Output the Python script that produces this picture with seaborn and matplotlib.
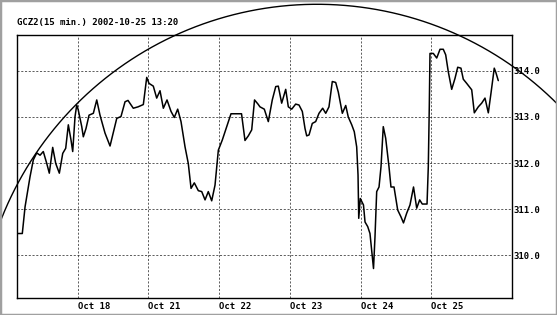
import numpy as np
import pandas as pd
import matplotlib
matplotlib.use("Agg")
import matplotlib.pyplot as plt
import seaborn as sns
from matplotlib.patches import Rectangle

# ---- data (x = trading-day position, Oct 18 = 1 ... Oct 25 = 6) ----
day_pos = [0.151, 0.216, 0.255, 0.293, 0.325, 0.372, 0.420, 0.467, 0.513, 0.562,
           0.598, 0.646, 0.689, 0.740, 0.788, 0.830, 0.867, 0.905, 0.929, 0.962,
           0.986, 1.008, 1.057, 1.079, 1.117, 1.160, 1.221, 1.269, 1.315, 1.386,
           1.457, 1.518, 1.552, 1.612, 1.669, 1.711, 1.786, 1.853, 1.928, 1.976,
           2.008, 2.069, 2.117, 2.164, 2.211, 2.263, 2.320, 2.366, 2.414, 2.461,
           2.518, 2.564, 2.603, 2.649, 2.706, 2.754, 2.801, 2.847, 2.895, 2.942,
           2.989, 3.045, 3.107, 3.168, 3.317, 3.366, 3.413, 3.461, 3.501, 3.550,
           3.578, 3.639, 3.696, 3.752, 3.801, 3.837, 3.885, 3.942, 3.979, 4.027,
           4.083, 4.130, 4.177, 4.215, 4.239, 4.272, 4.318, 4.366, 4.413, 4.465,
           4.508, 4.554, 4.601, 4.649, 4.686, 4.743, 4.791, 4.827, 4.876, 4.912,
           4.946, 4.965, 4.975, 4.997, 5.042, 5.064, 5.102, 5.134, 5.158, 5.184,
           5.205, 5.229, 5.262, 5.290, 5.322, 5.356, 5.403, 5.431, 5.474, 5.526,
           5.573, 5.608, 5.653, 5.700, 5.750, 5.795, 5.837, 5.874, 5.941, 5.959,
           5.973, 5.983, 6.030, 6.078, 6.125, 6.171, 6.205, 6.242, 6.290, 6.337,
           6.375, 6.421, 6.454, 6.502, 6.573, 6.610, 6.666, 6.714, 6.761, 6.808,
           6.846, 6.892, 6.912, 6.949]
price = [310.47, 310.47, 311.05, 311.41, 311.70, 312.07, 312.22, 312.17, 312.25, 311.99,
         311.78, 312.34, 311.99, 311.78, 312.21, 312.32, 312.83, 312.50, 312.25, 313.01,
         313.26, 313.15, 312.79, 312.57, 312.75, 313.04, 313.08, 313.37, 313.04, 312.65,
         312.37, 312.75, 312.97, 313.01, 313.33, 313.36, 313.19, 313.22, 313.27, 313.86,
         313.73, 313.67, 313.41, 313.57, 313.19, 313.37, 313.12, 312.99, 313.17, 312.90,
         312.35, 311.99, 311.45, 311.57, 311.40, 311.38, 311.20, 311.38, 311.18, 311.52,
         312.28, 312.50, 312.79, 313.07, 313.07, 312.49, 312.59, 312.72, 313.37, 313.28,
         313.22, 313.17, 312.90, 313.37, 313.66, 313.67, 313.30, 313.60, 313.22, 313.17,
         313.28, 313.26, 313.12, 312.75, 312.59, 312.61, 312.86, 312.90, 313.08, 313.19,
         313.08, 313.22, 313.77, 313.75, 313.54, 313.08, 313.25, 313.00, 312.83, 312.68,
         312.35, 311.74, 310.80, 311.23, 311.09, 310.72, 310.62, 310.47, 310.11, 309.71,
         310.40, 311.38, 311.48, 311.92, 312.79, 312.54, 311.92, 311.48, 311.48, 310.98,
         310.83, 310.70, 310.91, 311.09, 311.48, 311.02, 311.20, 311.11, 311.11, 311.92,
         313.22, 314.38, 314.38, 314.28, 314.47, 314.47, 314.35, 313.98, 313.60, 313.84,
         314.08, 314.06, 313.82, 313.73, 313.59, 313.09, 313.22, 313.30, 313.41, 313.09,
         313.52, 314.06, 313.98, 313.79]

day_ticks = [1, 2, 3, 4, 5, 6]
day_labels = ["Oct 18", "Oct 21", "Oct 22", "Oct 23", "Oct 24", "Oct 25"]
price_ticks = [310.0, 311.0, 312.0, 313.0, 314.0]
title_text = "GCZ2(15 min.) 2002-10-25 13:20"

# arc (circle-like) parameters in data units
arc_center = (4.385, 308.087)
arc_radii = (4.80, 7.36)

df = pd.DataFrame({"day": day_pos, "price": price})

sns.set_theme(style="white")
plt.rcParams["font.family"] = ["DejaVu Sans Mono", "DejaVu Sans"]

fig = plt.figure(figsize=(5.57, 3.15), dpi=100)
ax = fig.add_axes([17 / 557, 1 - 298 / 315, (512 - 17) / 557, (298 - 35) / 315])
ax.set_facecolor("white")

sns.lineplot(data=df, x="day", y="price", ax=ax, color="black", linewidth=1.1,
             estimator=None, sort=False)

# arc
t = np.linspace(0, np.pi, 400)
ax.plot(arc_center[0] + arc_radii[0] * np.cos(t),
        arc_center[1] + arc_radii[1] * np.sin(t),
        color="black", linewidth=1.0, clip_on=False)

ax.set_xlim(0.141, 7.143)
ax.set_ylim(309.07, 314.78)

ax.set_xticks(day_ticks)
ax.set_xticklabels(day_labels, ha="left")
ax.set_yticks(price_ticks)
ax.set_yticklabels([f"{v:.1f}" for v in price_ticks])
ax.yaxis.tick_right()
ax.tick_params(axis="both", length=0, labelsize=6.5, colors="black")
ax.tick_params(axis="x", pad=3)
ax.tick_params(axis="y", pad=1)
for lab in ax.get_xticklabels() + ax.get_yticklabels():
    lab.set_fontweight("bold")

ax.grid(True, linestyle=(0, (2.5, 2)), color="#222222", linewidth=0.6, alpha=0.85)
for s in ax.spines.values():
    s.set_visible(True)
    s.set_color("black")
    s.set_linewidth(1.0)
ax.set_xlabel("")
ax.set_ylabel("")

fig.text(17 / 557, 1 - 22 / 315, title_text, fontsize=6.5, fontweight="bold",
         ha="left", va="center", color="black")

fig.patches.append(Rectangle((0, 0), 1, 1, transform=fig.transFigure,
                             fill=False, edgecolor="#a0a0a0", linewidth=2.5))

fig.savefig("out.png", dpi=100, facecolor="white")
